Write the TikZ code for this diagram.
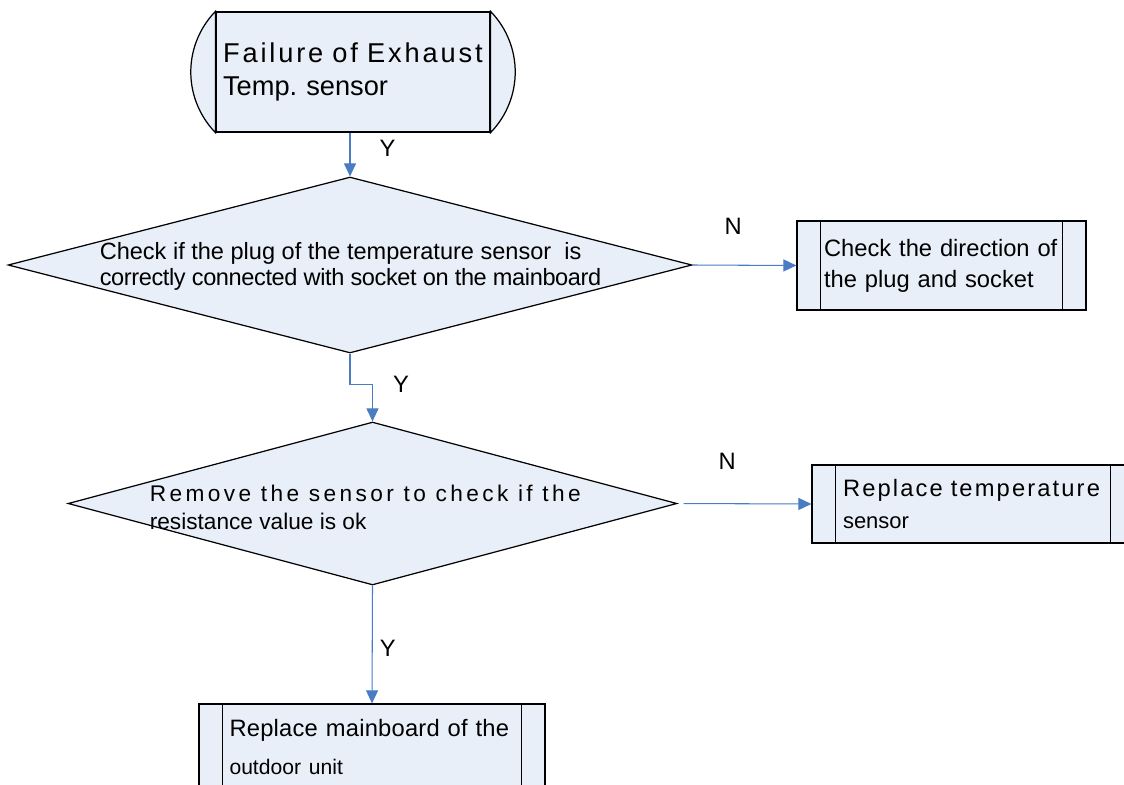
\documentclass[tikz,border=0pt]{standalone}
\usepackage{fontspec}
\setmainfont{Liberation Sans}
\usepackage{xcolor}
\usepackage{tikz}
\usetikzlibrary{shapes.geometric, arrows.meta, positioning, calc}
\definecolor{boxfill}{HTML}{E9EFF8}
\definecolor{flowblue}{HTML}{4A7CC4}
\frenchspacing

\begin{document}
\begin{tikzpicture}[x=0.02cm, y=-0.02cm, font=\fontsize{13.5}{17.6}\selectfont,
  term/.style={draw, fill=boxfill, line width=0.7pt, minimum width=5.48cm, minimum height=2.4cm, text width=5.2cm, inner xsep=0.14cm, align=left, font=\fontsize{15.5}{19.3}\selectfont},
  proc/.style={draw, fill=boxfill, line width=0.7pt, align=left, inner xsep=0pt, append after command={
    ([xshift=0.48cm]\tikzlastnode.north west) edge[line width=0.7pt] ([xshift=0.48cm]\tikzlastnode.south west)
    ([xshift=-0.48cm]\tikzlastnode.north east) edge[line width=0.7pt] ([xshift=-0.48cm]\tikzlastnode.south east)}},
  dec/.style={draw, diamond, fill=boxfill, line width=0.7pt, inner sep=0pt},
  dtext/.style={inner sep=0pt, align=left},
  arr/.style={flowblue, line width=0.6pt, -{Triangle[length=0.26cm, width=0.24cm]}},
  lbl/.style={inner sep=0pt, text=black}]
\useasboundingbox (0,0) rectangle (1124,784);
\clip (0,0) rectangle (1124,784);

\node[term] (start) at (353,72) {{\addfontfeature{LetterSpace=10.5}Failure of Exhaust}\\Temp. sensor};
\draw[fill=boxfill, line width=0.7pt] (start.north west) to[bend right=44] (start.south west) -- cycle;
\draw[fill=boxfill, line width=0.7pt] (start.north east) to[bend left=44] (start.south east) -- cycle;

\node[dec, minimum width=13.68cm, minimum height=3.52cm] (d1) at (350,265) {};
\node[dtext, anchor=west, yshift=-0.03cm, font=\fontsize{13.4}{15}\selectfont] (q1) at ([xshift=1.84cm]d1.west) {Check if the plug of the temperature sensor~ is\\{\addfontfeature{LetterSpace=-1.6}correctly connected with socket on the mainboard}};
\node[proc, minimum width=5.78cm, minimum height=1.78cm, text width=4.7cm] (fix) at (941.5,265.5) {Check the direction of\\the plug and socket};

\node[dec, minimum width=12.18cm, minimum height=3.26cm] (d2) at (372.5,503.5) {};
\node[dtext, anchor=west, yshift=-0.08cm, font=\fontsize{12.9}{15.9}\selectfont] (q2) at ([xshift=1.64cm]d2.west) {{\addfontfeature{LetterSpace=15}Remove the sensor to check if the}\\resistance value is ok};
\node[proc, minimum width=6.44cm, minimum height=1.56cm, text width=5.2cm] (sensor) at (973,504) {{\addfontfeature{LetterSpace=9}Replace temperature}\\[1pt]{\fontsize{12.5}{15}\selectfont sensor}};

\node[proc, minimum width=6.92cm, minimum height=1.72cm, text width=5.7cm] (board) at (372,747) {{\addfontfeature{LetterSpace=1}Replace mainboard of the}\\[4pt]{\fontsize{12}{14}\selectfont outdoor unit}};

\draw[arr] (start.south -| d1.north) -- node[lbl, pos=0.35, right=0.58cm] {Y} (d1.north);
\draw[arr] (d1.east) -- node[lbl, pos=0.39, above=0.6cm] {N} (fix.west);
\draw[arr] (d1.south) -- ++(0,31) -| node[lbl, pos=0.5, right=0.4cm] {Y} (d2.north);
\draw[arr, shorten <=0.12cm] (d2.east) -- node[lbl, pos=0.37, above=0.68cm] {N} (sensor.west);
\draw[arr] (d2.south) -- node[lbl, pos=0.53, right=0.14cm] {Y} (board.north);
\end{tikzpicture}
\end{document}
